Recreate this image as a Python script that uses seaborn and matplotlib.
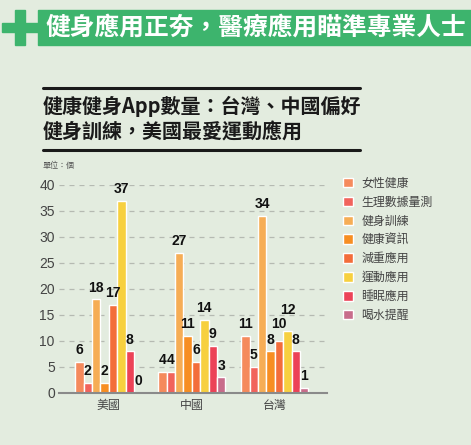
import numpy as np
import matplotlib.pyplot as plt
import seaborn as sns
import pandas as pd
from matplotlib.patches import Rectangle

countries = ["美國", "中國", "台灣"]
categories = ["女性健康", "生理數據量測", "健身訓練", "健康資訊",
              "減重應用", "運動應用", "睡眠應用", "喝水提醒"]
usa = [6, 2, 18, 2, 17, 37, 8, 0]
china = [4, 4, 27, 11, 6, 14, 9, 3]
taiwan = [11, 5, 34, 8, 10, 12, 8, 1]
yticks = [0, 5, 10, 15, 20, 25, 30, 35, 40]

colors = ["#f58a5c", "#f1635c", "#f6ad55", "#f78e22",
          "#f36d3a", "#f7d03f", "#ec4257", "#c86c8b"]
bg = "#e3ecdf"
green = "#3db46d"

rows = []
for c, vals in zip(countries, [usa, china, taiwan]):
    for cat, v in zip(categories, vals):
        rows.append({"country": c, "category": cat, "count": v})
df = pd.DataFrame(rows)

sns.set_style("white")
plt.rcParams["font.family"] = ["Noto Sans CJK TC", "DejaVu Sans"]

fig = plt.figure(figsize=(4.71, 4.45), dpi=100, facecolor=bg)
W, H = 471, 445

# header band with plus sign
fig.patches.append(Rectangle((38 / W, 1 - 45 / H), 433 / W, 35 / H,
                             transform=fig.transFigure, color=green, zorder=0))
fig.patches.append(Rectangle((15 / W, 1 - 45 / H), 10 / W, 35 / H,
                             transform=fig.transFigure, color=green, zorder=0))
fig.patches.append(Rectangle((2 / W, 1 - 32 / H), 36 / W, 9 / H,
                             transform=fig.transFigure, color=green, zorder=0))
fig.text(45 / W, 1 - 28 / H, "健身應用正夯，醫療應用瞄準專業人士", color="white",
         fontsize=17.8, fontweight="bold", va="center", ha="left")

# subtitle block
fig.add_artist(plt.Line2D([43 / W, 360 / W], [1 - 88 / H, 1 - 88 / H],
                          color="#1a1a1a", lw=2.2, transform=fig.transFigure))
fig.add_artist(plt.Line2D([43 / W, 360 / W], [1 - 150 / H, 1 - 150 / H],
                          color="#1a1a1a", lw=2.2, transform=fig.transFigure))
fig.text(43 / W, 1 - 106 / H, "健康健身App數量：台灣、中國偏好", color="#1a1a1a",
         fontsize=14.4, fontweight="bold", va="center", ha="left")
fig.text(43 / W, 1 - 132 / H, "健身訓練，美國最愛運動應用", color="#1a1a1a",
         fontsize=14.4, fontweight="bold", va="center", ha="left")
fig.text(43 / W, 1 - 165 / H, "單位：個", color="#555555",
         fontsize=5.8, va="center", ha="left")

ax = fig.add_axes([59 / W, 52 / H, 268 / W, 208 / H])
ax.set_facecolor(bg)
sns.barplot(data=df, x="country", y="count", hue="category", palette=colors,
            hue_order=categories, order=countries, width=0.81, saturation=1,
            ax=ax, legend=True)

label_sets = []
for cont in ax.containers:
    txts = ax.bar_label(cont, labels=[f"{int(v)}" for v in cont.datavalues], padding=3.5,
                        fontsize=10, fontweight="bold", color="#111111",
                        family=["Liberation Sans", "DejaVu Sans"], clip_on=False)
    label_sets.append(txts)

# nudge crowded Taiwan labels upward so they clear their neighbours, as in the original
for cat, lift in [("減重應用", 4), ("運動應用", 6)]:
    t = label_sets[categories.index(cat)][countries.index("台灣")]
    t.xyann = (t.xyann[0], t.xyann[1] + lift)

ax.set_ylim(0, 40)
ax.set_xlim(-0.6, 2.63)
ax.set_yticks(yticks)
ax.yaxis.grid(True, linestyle=(0, (4, 4)), color="#b5bab2", lw=0.9)
ax.set_axisbelow(True)
for s in ["top", "right", "left"]:
    ax.spines[s].set_visible(False)
ax.spines["bottom"].set_color("#8a8a8a")
ax.spines["bottom"].set_linewidth(1.5)
ax.tick_params(axis="both", length=0)
ax.tick_params(axis="y", labelsize=10, labelcolor="#444444", pad=3)
ax.tick_params(axis="x", labelsize=8.6, labelcolor="#444444", pad=4)
for t in ax.get_yticklabels():
    t.set_family(["Liberation Sans", "DejaVu Sans"])
ax.set_xlabel("")
ax.set_ylabel("")

handles, labels = ax.get_legend_handles_labels()
ax.get_legend().remove()
leg = fig.legend(handles, labels, loc="upper left",
                 bbox_to_anchor=(338 / W, 1 - 172 / H), frameon=False,
                 fontsize=8.6, handlelength=0.85, handleheight=0.85,
                 labelspacing=0.49, handletextpad=0.7, borderaxespad=0)
for t in leg.get_texts():
    t.set_color("#444444")

fig.savefig("out.png", dpi=100, facecolor=bg)
